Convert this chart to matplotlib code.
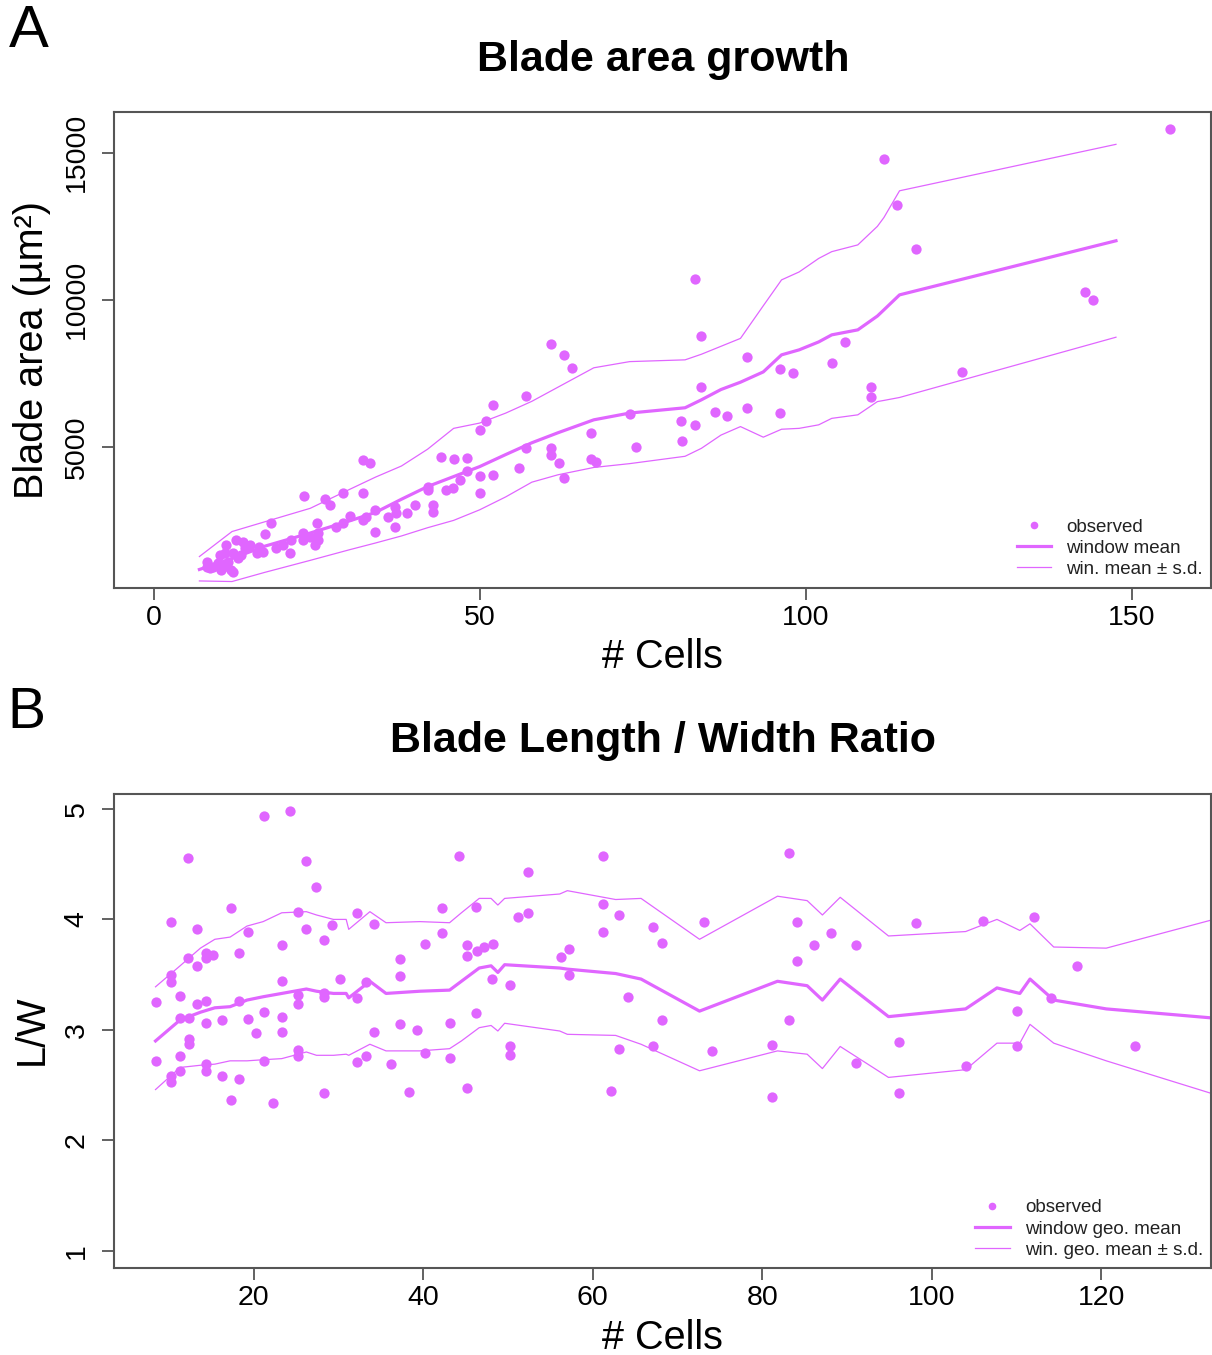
import matplotlib
matplotlib.use("Agg")
import matplotlib.pyplot as plt
from matplotlib.lines import Line2D

plt.rcParams["font.family"] = ["Liberation Sans", "DejaVu Sans"]

PURPLE = "#E066FF"
SPINE = "#555555"

# ---- panel A : blade area vs cell number ----
area_cells = [155.9, 112, 114, 117, 142.9, 144, 83, 84, 91, 106, 96, 98, 104, 124, 110, 110,
              84, 86.1, 88, 91, 96, 80.9, 83, 81.1, 73, 74, 67, 67, 67.9, 61, 63, 64.1,
              57.1, 52, 51, 50, 61, 61, 62.1, 63, 57.1, 56, 44, 46, 48, 50, 52, 48,
              46.9, 44.9, 45.9, 50, 42, 42, 40, 42.8, 42.8, 38.8, 32.1, 33.1, 23.1, 26.2,
              27, 29, 32.1, 18, 17, 37, 37.2, 35.9, 37, 33.9, 33.9, 32.6, 32.1, 30.1,
              29, 28, 25, 25.2, 25.2, 24.7, 23.9, 22.9, 22.9, 21.1, 20.9, 19.8, 18.8, 16.8,
              15.8, 14.7, 13.7, 12.6, 11.1, 10.9, 12.2, 12.2, 10.1, 9.9, 11.4, 10.6, 8.1, 8.1,
              9.1, 12.9, 13.4, 14, 16.1, 11.8, 10.3, 8.6]
area_um2 = [15800, 14780, 13230, 11730, 10260, 10000, 10700, 8770, 8050, 8580, 7640, 7520,
            7860, 7540, 7030, 6710, 7020, 6180, 6050, 6310, 6140, 5880, 5750, 5200, 6120,
            4990, 5480, 4590, 4500, 8500, 8130, 7670, 6740, 6430, 5880, 5580, 4950, 4730,
            4460, 3930, 4950, 4270, 4670, 4580, 4630, 4010, 4050, 4180, 3880, 3540, 3590,
            3440, 3650, 3540, 3030, 3030, 2800, 2740, 4560, 4460, 3340, 3220, 3030, 3420,
            3420, 2400, 2040, 2970, 2740, 2630, 2270, 2120, 2860, 2630, 2520, 2650, 2400,
            2290, 2400, 2060, 1840, 1670, 1950, 2060, 1840, 1840, 1380, 1670, 1550, 1440,
            1380, 1670, 1780, 1840, 1670, 1380, 1380, 760, 1330, 1040, 1100, 930, 1100, 930,
            930, 1210, 1330, 1560, 1600, 820, 820, 880]

win_cells_a = [7, 12, 17, 24, 30, 34, 38, 42, 46, 50, 54, 58, 62, 67.5, 73, 81.5, 84, 87,
               90, 93.5, 96.3, 99, 102, 104, 108, 111, 112, 114.4, 147.6]
win_mean_a = [830, 1200, 1620, 2070, 2480, 2770, 3220, 3650, 3990, 4330, 4740, 5140, 5480,
              5920, 6150, 6330, 6600, 6950, 7200, 7550, 8130, 8300, 8570, 8810, 8980, 9450,
              9660, 10170, 12010]
win_upper_a = [1270, 2120, 2450, 2910, 3550, 3970, 4350, 4920, 5630, 5810, 6150, 6550, 7030,
               7690, 7900, 7960, 8150, 8420, 8690, 9800, 10680, 10950, 11410, 11640, 11870,
               12500, 12800, 13710, 15290]
win_lower_a = [440, 420, 730, 1140, 1500, 1730, 1970, 2250, 2500, 2860, 3300, 3800, 4050,
               4300, 4430, 4680, 4950, 5400, 5690, 5330, 5600, 5630, 5750, 5970, 6090, 6540,
               6580, 6680, 8730]

# ---- panel B : length / width ratio ----
lw_cells = [21.2, 24.3, 12.2, 26.2, 27.3, 44.2, 17.3, 10.2, 13.3, 25.2, 32.2, 42.2, 46.2, 19.3,
            26.2, 29.2, 34.2, 42.2, 28.3, 23.3, 40.2, 45.2, 45.2, 46.3, 47.2, 48.2, 12.2, 14.3,
            14.3, 15.2, 13.3, 18.3, 10.2, 10.2, 23.3, 30.2, 37.2, 37.2, 48.1, 11.3, 8.4, 13.3,
            14.3, 18.3, 25.2, 25.2, 28.3, 28.3, 32.2, 33.2, 11.3, 12.3, 14.3, 16.3, 19.3, 21.2,
            23.3, 20.3, 23.3, 34.2, 37.2, 39.2, 43.2, 46.2, 12.3, 12.3, 8.4, 11.3, 11.3, 10.2,
            10.2, 14.3, 14.3, 16.3, 18.3, 21.2, 25.2, 25.2, 32.2, 33.2, 36.2, 40.2, 43.2, 17.3,
            22.3, 28.3, 38.3, 45.2, 61.2, 52.3, 83.2, 61.2, 63.1, 61.2, 52.3, 51.2, 67.1, 68.2,
            73.1, 84.1, 88.1, 86.1, 91.1, 84.1, 57.2, 56.2, 57.2, 50.2, 64.2, 68.2, 83.1, 50.2,
            50.2, 63.1, 67.1, 74.1, 81.1, 91.1, 62.2, 81.1, 98.1, 106.1, 112.1, 117.1, 114.1,
            110.1, 96.1, 104.1, 110.1, 124, 96.1]
lw_ratio = [4.94, 4.98, 4.56, 4.53, 4.29, 4.57, 4.10, 3.98, 3.91, 4.07, 4.06, 4.10, 4.11, 3.89,
            3.91, 3.95, 3.96, 3.88, 3.81, 3.77, 3.78, 3.77, 3.67, 3.71, 3.75, 3.78, 3.65, 3.70,
            3.65, 3.68, 3.58, 3.70, 3.50, 3.43, 3.44, 3.46, 3.64, 3.49, 3.46, 3.31, 3.25, 3.23,
            3.26, 3.26, 3.32, 3.23, 3.33, 3.30, 3.29, 3.43, 3.11, 3.11, 3.06, 3.09, 3.10, 3.16,
            3.12, 2.97, 2.98, 2.98, 3.05, 3.00, 3.06, 3.15, 2.92, 2.87, 2.72, 2.76, 2.63, 2.58,
            2.53, 2.69, 2.63, 2.58, 2.56, 2.72, 2.82, 2.76, 2.71, 2.76, 2.69, 2.79, 2.75, 2.37,
            2.34, 2.43, 2.44, 2.47, 4.57, 4.43, 4.60, 4.14, 4.04, 3.89, 4.06, 4.02, 3.93, 3.79,
            3.98, 3.98, 3.88, 3.77, 3.77, 3.62, 3.73, 3.66, 3.50, 3.41, 3.30, 3.09, 3.09, 2.85,
            2.77, 2.83, 2.85, 2.81, 2.86, 2.70, 2.45, 2.39, 3.97, 3.99, 4.02, 3.58, 3.29, 3.17,
            2.89, 2.67, 2.85, 2.85, 2.43]

win_cells_b = [8.4, 11.3, 13.7, 15.4, 17.2, 19.2, 21.1, 23.3, 26.2, 27.4, 29.4, 30.9, 31.2,
               33.7, 35.6, 39.6, 43.1, 44.5, 46.6, 48.0, 48.8, 49.6, 56.1, 57.0, 62.7, 65.7,
               72.6, 81.8, 85.3, 87.1, 89.2, 94.9, 104.0, 107.7, 110.4, 111.6, 114.4, 120.6,
               132.8]
win_mean_b = [2.90, 3.09, 3.16, 3.20, 3.21, 3.27, 3.30, 3.33, 3.37, 3.35, 3.33, 3.33, 3.29,
              3.44, 3.33, 3.35, 3.36, 3.44, 3.56, 3.58, 3.52, 3.59, 3.56, 3.55, 3.51, 3.46,
              3.17, 3.44, 3.40, 3.27, 3.46, 3.12, 3.19, 3.38, 3.33, 3.46, 3.27, 3.19, 3.11]
win_upper_b = [3.39, 3.58, 3.74, 3.82, 3.84, 3.94, 3.98, 4.06, 4.07, 4.04, 4.00, 4.00, 3.91,
               4.07, 3.97, 3.98, 3.97, 4.06, 4.19, 4.19, 4.13, 4.19, 4.23, 4.26, 4.18, 4.19,
               3.82, 4.21, 4.17, 4.04, 4.20, 3.85, 3.89, 4.00, 3.90, 3.96, 3.75, 3.74, 3.99]
win_lower_b = [2.46, 2.66, 2.68, 2.69, 2.72, 2.72, 2.73, 2.74, 2.80, 2.77, 2.77, 2.78, 2.77,
               2.87, 2.81, 2.81, 2.83, 2.90, 3.02, 3.04, 2.99, 3.06, 2.99, 2.96, 2.95, 2.87,
               2.63, 2.81, 2.78, 2.65, 2.85, 2.57, 2.64, 2.88, 2.88, 3.05, 2.88, 2.72, 2.43]

W, H = 1212, 1355


def fx(px):
    return px / W


def fy(py):
    return 1 - py / H


def _style_axes(ax):
    for s in ax.spines.values():
        s.set_color(SPINE)
        s.set_linewidth(1.5)
    ax.tick_params(length=8.5, width=1.3, color=SPINE, labelsize=20.5, pad=4)
    ax.tick_params(axis="y", labelrotation=90, pad=9)
    for lbl in ax.get_yticklabels():
        lbl.set_va("center")


def _panel(ax, cx, cy, wx, wmean, wup, wlow, labels, legend_anchor):
    ax.plot(cx, cy, "o", color=PURPLE, ms=7.4, mec="none", zorder=3)
    ax.plot(wx, wup, color=PURPLE, lw=0.9, zorder=2)
    ax.plot(wx, wlow, color=PURPLE, lw=0.9, zorder=2)
    ax.plot(wx, wmean, color=PURPLE, lw=2.3, zorder=2)
    handles = [Line2D([], [], ls="none", marker="o", color=PURPLE, mec="none", ms=5.5),
               Line2D([], [], color=PURPLE, lw=2.3),
               Line2D([], [], color=PURPLE, lw=0.9)]
    leg = ax.legend(handles, labels, loc="lower right", bbox_to_anchor=legend_anchor,
                    bbox_transform=ax.figure.transFigure, frameon=False, fontsize=13.5,
                    handlelength=1.85, handletextpad=0.8, labelspacing=0.22,
                    borderaxespad=0, borderpad=0)
    for t in leg.get_texts():
        t.set_color("#222222")


fig = plt.figure(figsize=(W / 100, H / 100), dpi=100)

# panel A
axA = fig.add_axes([fx(114), fy(588), fx(1210.5) - fx(114), fy(112) - fy(588)])
_panel(axA, area_cells, area_um2, win_cells_a, win_mean_a, win_upper_a, win_lower_a,
       ["observed", "window mean", "win. mean \u00b1 s.d."], (fx(1203), fy(578)))
axA.set_xlim(-6.1, 162.1)
axA.set_ylim(200, 16390)
axA.set_xticks([0, 50, 100, 150])
axA.set_yticks([5000, 10000, 15000])
_style_axes(axA)

# panel B
axB = fig.add_axes([fx(114), fy(1268), fx(1210.5) - fx(114), fy(794) - fy(1268)])
_panel(axB, lw_cells, lw_ratio, win_cells_b, win_mean_b, win_upper_b, win_lower_b,
       ["observed", "window geo. mean", "win. geo. mean \u00b1 s.d."], (fx(1203), fy(1259)))
axB.set_xlim(3.5, 132.9)
axB.set_ylim(0.845, 5.135)
axB.set_xticks([20, 40, 60, 80, 100, 120])
axB.set_yticks([1, 2, 3, 4, 5])
_style_axes(axB)

# titles, axis labels, panel letters
fig.text(fx(663), fy(60), "Blade area growth", ha="center", va="center",
         fontsize=31, fontweight="bold")
fig.text(fx(663), fy(741), "Blade Length / Width Ratio", ha="center", va="center",
         fontsize=31, fontweight="bold")
fig.text(fx(662), fy(657), "# Cells", ha="center", va="center", fontsize=28.5)
fig.text(fx(662), fy(1338), "# Cells", ha="center", va="center", fontsize=28.5)
fig.text(fx(32), fy(350), "Blade area (\u00b5m\u00b2)", ha="center", va="center",
         rotation=90, fontsize=28.5)
fig.text(fx(32), fy(1030), "L/W", ha="center", va="center", rotation=90, fontsize=28.5)
fig.text(fx(9), fy(47), "A", ha="left", va="baseline", fontsize=43)
fig.text(fx(7), fy(728), "B", ha="left", va="baseline", fontsize=41)

fig.savefig("out.png", dpi=100)
plt.close(fig)
